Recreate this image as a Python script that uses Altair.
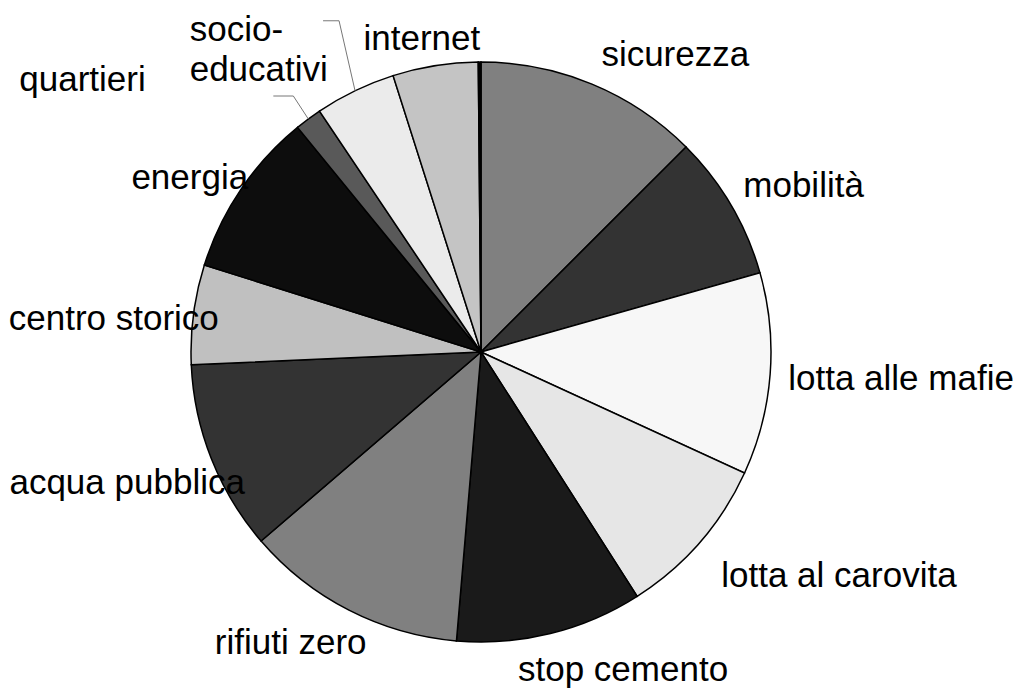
import math
import altair as alt
import pandas as pd

# ---- data (shares in %) ----
categories = ["sicurezza", "mobilità", "lotta alle mafie", "lotta al carovita",
              "stop cemento", "rifiuti zero", "acqua pubblica", "centro storico",
              "energia", "quartieri", "socio-educativi", "internet", "altro"]
shares = [12.5, 8.1, 11.25, 9.1, 10.4, 12.35, 10.6, 5.55, 9.25, 1.5, 4.5, 4.75, 0.15]
label_texts = ["sicurezza", "mobilità", "lotta alle mafie", "lotta al carovita",
               "stop cemento", "rifiuti zero", "acqua pubblica", "centro storico",
               "energia", "quartieri", "socio-\neducativi", "internet", ""]
colors = ["#808080", "#333333", "#f7f7f7", "#e6e6e6", "#1a1a1a", "#808080",
          "#333333", "#c0c0c0", "#0d0d0d", "#595959", "#ebebeb", "#c4c4c4", "#000000"]

# ---- layout ----
W, H = 1009, 682
CX, CY = 473, 344          # pie centre inside the plot area
R = 290                    # pie radius
R_LAB = 330                # label anchor radius
FS = 35
# label offsets (dx, dy) from anchor on the mid-angle, baseline alphabetic
label_off = {
    "sicurezza": (68, 19), "mobilità": (38, 12), "lotta alle mafie": (91, 13),
    "lotta al carovita": (109, 18), "stop cemento": (63, 9), "rifiuti zero": (-40, 8),
    "acqua pubblica": (-47, 21), "centro storico": (-40, 21), "energia": (-18, 22),
    "quartieri": (-202, 4), "socio-educativi": (-148, -14), "internet": (-7, 24),
    "altro": (0, 0),
}
# leader lines: (elbow offset from the pie edge, horizontal tail length)
leaders = {"socio-educativi": ((-16, -70), -16), "quartieri": ((-15, -23), -20)}

total = sum(shares)
rows, lab_rows, line_rows = [], [], []
cum = 0.0
for i, (c, s, t) in enumerate(zip(categories, shares, label_texts)):
    mid = (cum + s / 2) / total * 2 * math.pi
    cum += s
    rows.append({"cat": c, "value": s, "idx": i})
    ax = CX + R_LAB * math.sin(mid)
    ay = CY - R_LAB * math.cos(mid)
    dx, dy = label_off[c]
    if t:
        lab_rows.append({"cat": c, "text": t, "lx": ax + dx, "ly": ay + dy,
                         "left": c == "socio-educativi"})
    if c in leaders:
        (ex, ey), tail = leaders[c]
        px = CX + R * math.sin(mid)
        py = CY - R * math.cos(mid)
        pts = [(px, py), (px + ex, py + ey), (px + ex + tail, py + ey)]
        for k, (qx, qy) in enumerate(pts):
            line_rows.append({"cat": c, "k": k, "px": qx, "py": qy})

df = pd.DataFrame(rows)
labs = pd.DataFrame(lab_rows)
lines = pd.DataFrame(line_rows)

pie = alt.Chart(df).mark_arc(outerRadius=R, stroke="black", strokeWidth=1.5).encode(
    theta=alt.Theta("value:Q", stack=True),
    color=alt.Color("cat:N", scale=alt.Scale(domain=categories, range=colors), legend=None),
    order=alt.Order("idx:Q"),
    x=alt.value(CX),
    y=alt.value(CY),
)

text_common = dict(font="Liberation Sans", fontSize=FS, color="black",
                   baseline="alphabetic", lineBreak="\n", lineHeight=40)

txt_center = alt.Chart(labs[~labs["left"]]).mark_text(align="center", **text_common).encode(
    x=alt.X("lx:Q", scale=None, axis=None),
    y=alt.Y("ly:Q", scale=None, axis=None),
    text="text:N",
)
txt_left = alt.Chart(labs[labs["left"]]).mark_text(align="left", **text_common).encode(
    x=alt.X("lx:Q", scale=None, axis=None),
    y=alt.Y("ly:Q", scale=None, axis=None),
    text="text:N",
)

lead = alt.Chart(lines).mark_line(color="#777777", strokeWidth=1).encode(
    x=alt.X("px:Q", scale=None, axis=None),
    y=alt.Y("py:Q", scale=None, axis=None),
    detail="cat:N",
    order="k:Q",
)

chart = alt.layer(pie, lead, txt_center, txt_left).properties(
    width=W, height=H, autosize=alt.AutoSizeParams(type="none"), padding=0,
).configure(background="white").configure_view(stroke=None, strokeWidth=0)

chart.save("out.html", embed_options={"renderer": "svg", "actions": False})
